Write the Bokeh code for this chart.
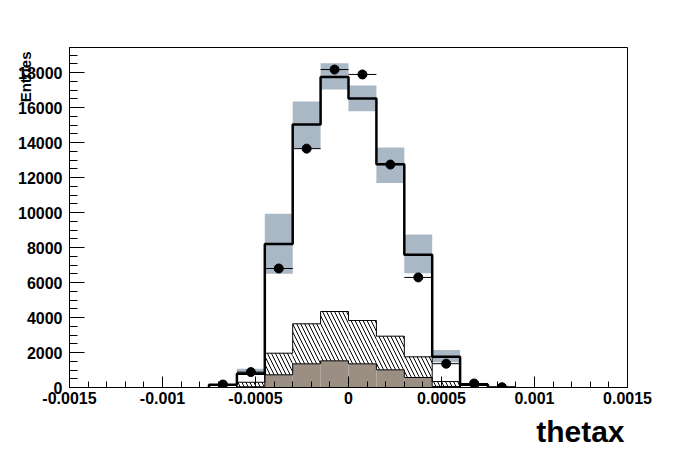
import numpy as np
from bokeh.plotting import figure
from bokeh.models import FixedTicker, Title
from bokeh.embed import file_html
from bokeh.resources import INLINE

# ---------------- data ----------------
bin_width = 0.00015
bin_centers = [-0.000675, -0.000525, -0.000375, -0.000225, -0.000075,
               0.000075, 0.000225, 0.000375, 0.000525, 0.000675, 0.000825]
data_counts = [170, 880, 6800, 13650, 18170, 17890, 12740, 6290, 1360, 230, 15]
mc_total = [160, 780, 8200, 15030, 17750, 16510, 12760, 7580, 1760, 160, 0]
band_low = [160, 790, 6500, 13640, 17030, 15790, 11680, 6530, 1450, 160, 0]
band_high = [160, 1070, 9930, 16340, 18530, 17260, 13710, 8740, 2150, 160, 0]
brown_comp = [0, 40, 726, 1352, 1524, 1352, 1010, 571, 60, 0, 0]
hatched_top = [0, 300, 1960, 3640, 4343, 3829, 2933, 1752, 340, 0, 0]

x_tick_vals = [-0.0015, -0.001, -0.0005, 0.0, 0.0005, 0.001, 0.0015]
x_tick_labels = ["-0.0015", "-0.001", "-0.0005", "0", "0.0005", "0.001", "0.0015"]
y_tick_vals = [0, 2000, 4000, 6000, 8000, 10000, 12000, 14000, 16000, 18000]
x_title = "thetax"
y_title = "Entries"

# ---------------- derived geometry ----------------
c = np.array(bin_centers)
left = c - bin_width / 2
right = c + bin_width / 2
edges = np.append(left, right[-1])


def step_outline(vals):
    v = np.asarray(vals, dtype=float)
    xs = np.repeat(edges, 2)
    ys = np.concatenate([[0.0], np.repeat(v, 2), [0.0]])
    return xs, ys


FONT = "Liberation Sans"

p = figure(width=680, height=456, output_backend="svg", toolbar_location=None,
           x_range=(-0.0015, 0.0015), y_range=(0, 19430),
           min_border_left=69, min_border_right=53,
           min_border_top=47, min_border_bottom=69)
p.background_fill_color = "white"
p.border_fill_color = "white"
p.outline_line_color = "black"
p.outline_line_width = 1
p.xgrid.visible = False
p.ygrid.visible = False

# axes
p.xaxis.ticker = FixedTicker(ticks=x_tick_vals,
                             minor_ticks=list(np.round(np.arange(-0.0015, 0.00151, 0.0001), 6)))
p.xaxis.major_label_overrides = {v: l for v, l in zip(x_tick_vals, x_tick_labels)}
p.yaxis.ticker = FixedTicker(ticks=y_tick_vals,
                             minor_ticks=list(np.arange(0, 19500, 500)))
for ax in (p.xaxis[0], p.yaxis[0]):
    ax.axis_line_color = "black"
    ax.axis_line_width = 1
    ax.major_tick_line_color = "black"
    ax.minor_tick_line_color = "black"
    ax.major_tick_out = 0
    ax.minor_tick_out = 0
    ax.major_label_text_font = FONT
    ax.major_label_text_font_style = "bold"
    ax.major_label_text_font_size = "16px"
    ax.major_label_text_color = "black"
p.xaxis.major_tick_in = 11
p.xaxis.minor_tick_in = 6
p.yaxis.major_tick_in = 15
p.yaxis.minor_tick_in = 8
p.xaxis.major_label_standoff = 4
p.yaxis.major_label_standoff = 7

# uncertainty band
p.quad(left=left, right=right, bottom=band_low, top=band_high,
       fill_color="#aab7c4", line_color=None)

# stacked components
p.quad(left=left, right=right, bottom=0, top=brown_comp,
       fill_color="#9b8f83", line_color=None)
p.quad(left=left, right=right, bottom=brown_comp, top=hatched_top,
       fill_color="white", line_color=None,
       hatch_pattern="\\", hatch_color="black", hatch_scale=8, hatch_weight=1)
xs, ys = step_outline(brown_comp)
p.line(xs, ys, line_color="black", line_width=1)
xs, ys = step_outline(hatched_top)
p.line(xs, ys, line_color="black", line_width=1)

# MC total outline
xs, ys = step_outline(mc_total)
p.line(xs, ys, line_color="black", line_width=2.5)

# data points
p.segment(x0=left, x1=right, y0=data_counts, y1=data_counts,
          line_color="black", line_width=1)
p.scatter(x=bin_centers, y=data_counts, size=9, marker="circle",
          fill_color="black", line_color="black")

# axis titles
p.add_layout(Title(text=x_title, align="right", offset=3, standoff=12,
                   text_font=FONT, text_font_style="bold",
                   text_font_size="30px", text_color="black"), "below")
p.add_layout(Title(text=y_title, align="right", offset=4, standoff=-36,
                   text_font=FONT, text_font_style="bold",
                   text_font_size="15px", text_color="black"), "left")

open("out.html", "w").write(file_html(p, INLINE))
